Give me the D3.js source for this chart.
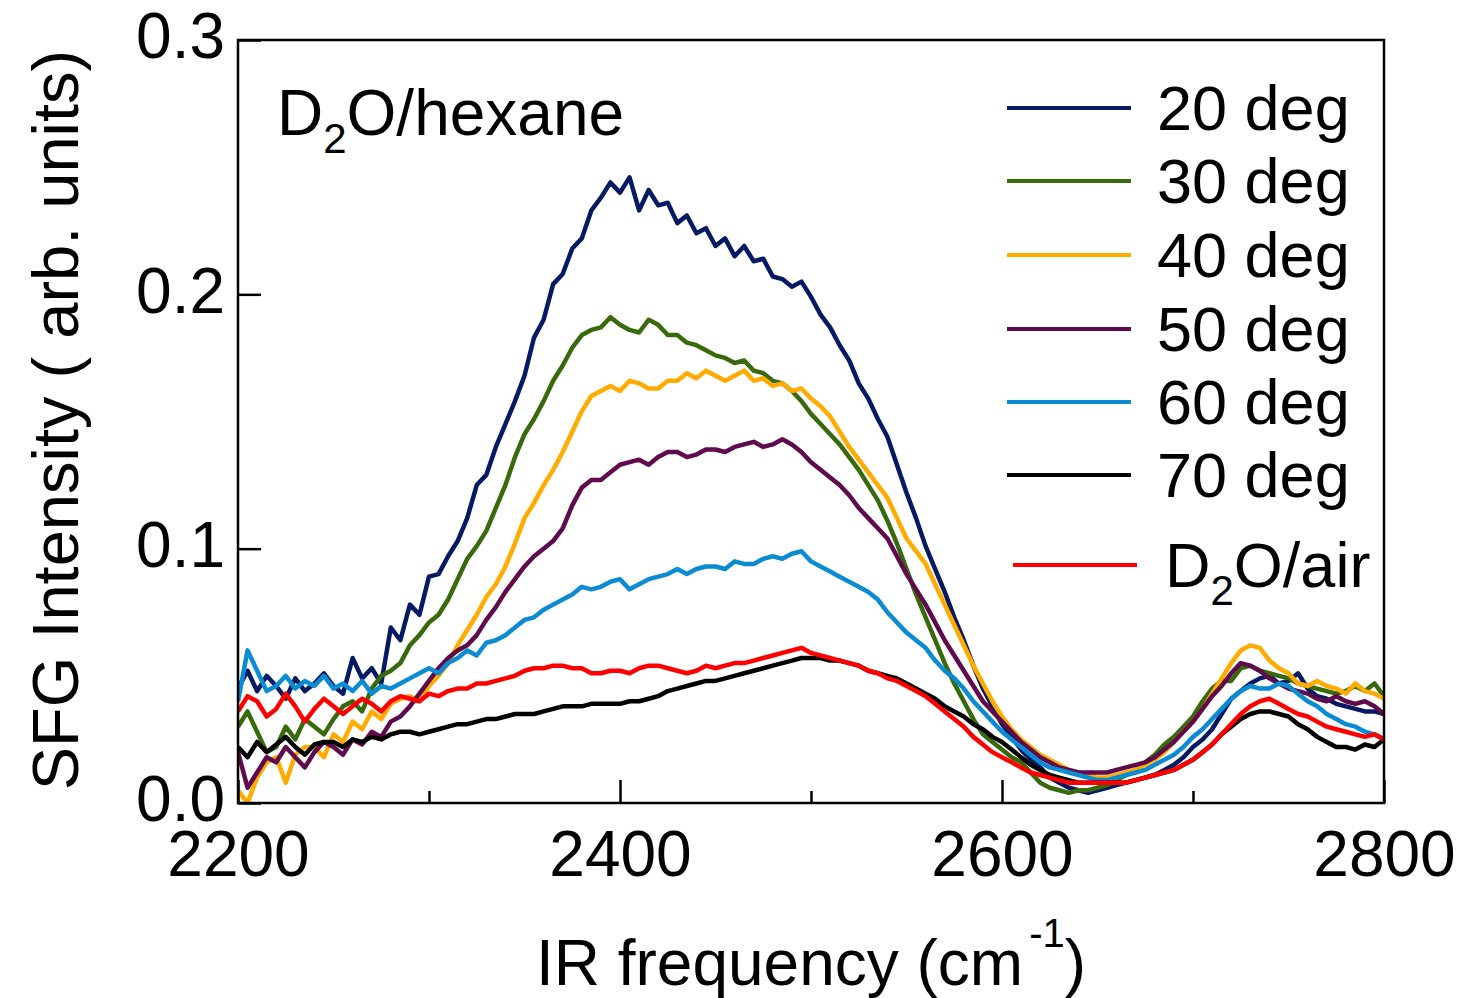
<!DOCTYPE html>
<html>
<head>
<meta charset="utf-8">
<script src="https://cdn.jsdelivr.net/npm/d3@7"></script>
<style>
body { margin: 0; background: #fff; }
text { font-family: "Liberation Sans", Arial, sans-serif; fill: #000; }
</style>
</head>
<body>
<div id="chart"></div>
<script>
// IR frequency grid (cm-1), 5 cm-1 step
var freq = d3.range(2200, 2801, 5);

// SFG intensity, in 1e-3 arb. units (one row = 50 cm-1)
var deg20 = [
  45,52,44,50,46,41,49,44,47,51,
  46,43,57,49,53,47,69,64,78,74,
  89,90,97,103,112,125,129,140,149,158,
  168,183,190,204,208,218,222,233,238,244,
  240,246,233,241,235,236,228,231,224,226,
  219,222,215,219,213,214,207,206,203,205,
  199,192,187,180,174,165,159,151,144,133,
  122,112,101,92,83,73,64,54,45,38,
  31,26,21,17,14,10,8,6,5,4,
  5,6,7,8,9,10,11,13,15,18,
  22,25,29,35,41,44,47,49,50,47,
  48,51,45,42,41,39,38,37,36,36,
  35];
var deg30 = [
  30,36,28,20,22,30,25,33,30,27,
  33,38,40,36,45,50,52,55,62,66,
  71,74,80,88,96,101,107,116,125,136,
  145,151,158,166,172,179,184,186,187,191,
  188,186,185,190,188,184,184,181,180,178,
  176,175,173,174,170,169,166,165,162,158,
  153,149,145,141,136,131,125,119,111,102,
  92,82,73,64,55,47,40,33,27,24,
  21,18,16,12,8,6,5,4,5,5,
  6,7,9,11,13,16,19,23,26,30,
  34,40,45,48,48,53,54,52,51,50,
  49,47,46,45,44,43,44,46,44,47,
  42];
var deg40 = [
  5,0,10,16,18,8,19,22,22,18,
  27,24,32,29,36,33,39,41,42,40,
  46,50,55,62,68,74,81,86,93,102,
  112,118,125,131,138,146,154,160,162,164,
  162,166,165,163,163,166,166,169,167,170,
  168,166,168,170,166,167,164,165,162,163,
  159,156,152,146,140,135,130,125,120,112,
  104,99,94,86,78,70,62,54,47,40,
  34,29,25,22,19,17,15,13,12,11,
  10,10,11,12,13,15,17,20,24,28,
  32,37,43,49,55,60,62,61,56,53,
  51,47,46,48,46,45,43,47,44,43,
  41];
var deg50 = [
  20,6,12,18,16,22,18,14,20,24,
  22,19,25,23,28,26,32,34,38,43,
  48,53,57,60,62,66,72,77,83,88,
  93,97,100,103,108,117,124,127,127,130,
  133,134,135,133,136,138,138,136,137,139,
  139,138,140,141,142,140,141,143,141,138,
  134,131,128,125,121,116,112,108,104,97,
  90,84,78,71,64,58,52,46,40,36,
  32,28,24,21,18,16,14,13,12,12,
  12,12,13,14,15,16,18,21,24,28,
  32,37,42,46,51,55,54,52,49,47,
  45,44,43,41,40,42,40,39,40,38,
  35];
var deg60 = [
  40,60,52,44,46,50,45,48,46,50,
  45,47,44,48,43,46,45,47,49,51,
  53,51,55,57,60,58,63,64,66,69,
  72,73,76,78,80,82,85,84,85,87,
  88,84,86,88,89,90,92,90,92,93,
  93,92,95,94,94,96,97,96,98,99,
  95,93,91,89,87,85,83,80,75,71,
  67,64,61,56,52,49,45,40,36,32,
  28,25,22,19,16,14,13,12,11,10,
  9,9,10,11,12,13,15,17,19,22,
  26,29,33,37,41,44,46,45,45,47,
  46,43,40,38,35,33,31,30,28,27,
  25];
var deg70 = [
  22,18,24,20,23,26,22,19,23,24,
  24,22,25,24,26,25,27,28,28,27,
  28,29,30,31,31,32,33,33,34,35,
  35,35,36,37,38,38,38,39,39,39,
  39,40,40,41,42,44,45,46,47,48,
  48,49,50,51,52,53,54,55,56,57,
  57,57,56,56,55,54,52,51,50,49,
  47,45,43,41,38,36,34,31,29,26,
  24,21,18,15,13,11,10,9,8,8,
  8,8,8,8,9,10,11,12,13,15,
  17,20,23,27,30,33,35,36,36,35,
  34,31,29,26,24,22,22,21,23,22,
  25];
var d2oAir = [
  36,42,40,34,37,43,38,32,37,41,
  38,35,38,41,39,36,40,42,41,40,
  43,42,44,45,45,47,47,48,49,50,
  52,53,53,54,54,53,53,51,51,52,
  52,51,53,54,54,53,52,51,52,54,
  53,54,55,55,56,57,58,59,60,61,
  59,58,57,56,55,54,52,51,49,48,
  46,44,42,39,36,33,30,26,23,20,
  18,16,14,12,11,10,9,8,8,8,
  8,8,8,8,9,10,11,12,13,15,
  17,20,23,27,31,35,38,40,41,39,
  37,35,34,32,30,29,28,27,26,27,
  25];

var seriesNames = ["20 deg", "30 deg", "40 deg", "50 deg", "60 deg", "70 deg", "D2O/air"];
var seriesData = [deg20, deg30, deg40, deg50, deg60, deg70, d2oAir];
var seriesColors = ["#061a64", "#386a0c", "#ffab00", "#5e0a4c", "#0a8bd2", "#000000", "#ff0000"];

var xTicks = [2200, 2400, 2600, 2800];
var xMinorTicks = [2300, 2500, 2700];
var yTicks = [0, 0.1, 0.2, 0.3];

// Layout
var width = 1465,
    height = 998;
var margin = {top: 40, right: 81, bottom: 195, left: 238};
var w = width - margin.left - margin.right,
    h = height - margin.top - margin.bottom;

var svg = d3.select("#chart").append("svg")
    .attr("width", width)
    .attr("height", height);

var g = svg.append("g")
    .attr("transform", "translate(" + margin.left + "," + margin.top + ")");

var x = d3.scaleLinear().domain([2200, 2800]).range([0, w]);
var y = d3.scaleLinear().domain([0, 0.3]).range([h, 0]);

g.append("clipPath")
    .attr("id", "plot-clip")
    .append("rect")
    .attr("width", w)
    .attr("height", h);

// Curves
var line = d3.line()
    .x(function(d, i) { return x(freq[i]); })
    .y(function(d) { return y(d / 1000); });

g.append("g")
    .attr("clip-path", "url(#plot-clip)")
    .selectAll("path")
    .data(seriesData)
    .enter().append("path")
    .attr("d", line)
    .attr("fill", "none")
    .attr("stroke", function(d, i) { return seriesColors[i]; })
    .attr("stroke-width", 4.5)
    .attr("stroke-linejoin", "round");

// Axes (ticks point inward)
var xAxis = g.append("g")
    .attr("transform", "translate(0," + h + ")")
    .call(d3.axisBottom(x).tickValues(xTicks).tickSize(-23).tickPadding(28).tickFormat(d3.format("d")));
var xMinor = g.append("g")
    .attr("transform", "translate(0," + h + ")")
    .call(d3.axisBottom(x).tickValues(xMinorTicks).tickSize(-12).tickFormat(""));
var yAxis = g.append("g")
    .call(d3.axisLeft(y).tickValues(yTicks).tickSize(-23).tickPadding(13).tickFormat(d3.format(".1f")));

[xAxis, xMinor, yAxis].forEach(function(a) {
    a.select(".domain").remove();
    a.selectAll("line").attr("stroke", "#000").attr("stroke-width", 2.5);
    a.selectAll("text")
        .style("font-family", "'Liberation Sans', Arial, sans-serif")
        .style("font-size", "64px")
        .attr("fill", "#000");
});
yAxis.selectAll("text").attr("dy", "0.28em");

// Frame
g.append("rect")
    .attr("width", w)
    .attr("height", h)
    .attr("fill", "none")
    .attr("stroke", "#000")
    .attr("stroke-width", 2.5);

// Axis titles
var xt = svg.append("text")
    .attr("x", margin.left + w / 2)
    .attr("y", 985)
    .attr("text-anchor", "middle")
    .style("font-size", "64px");
xt.append("tspan").text("IR frequency (cm");
xt.append("tspan").attr("dy", -38).attr("dx", 6).style("font-size", "40px").text("-1");
xt.append("tspan").attr("dy", 38).text(")");

svg.append("text")
    .attr("transform", "translate(78," + (margin.top + 380) + ") rotate(-90)")
    .attr("text-anchor", "middle")
    .style("font-size", "65px")
    .text("SFG Intensity ( arb. units)");

// Sample label
var lab = g.append("text")
    .attr("x", 39)
    .attr("y", 95)
    .style("font-size", "64px");
lab.append("tspan").text("D");
lab.append("tspan").attr("dy", 18).style("font-size", "42px").text("2");
lab.append("tspan").attr("dy", -18).text("O/hexane");

// Legend
var legendY = [68, 141, 215, 289, 362, 435, 525];
var legend = g.append("g");
seriesNames.forEach(function(name, i) {
    var last = i === seriesNames.length - 1;
    var x0 = last ? 775 : 769;
    legend.append("line")
        .attr("x1", x0).attr("x2", x0 + 124)
        .attr("y1", legendY[i]).attr("y2", legendY[i])
        .attr("stroke", seriesColors[i])
        .attr("stroke-width", 4);
    var t = legend.append("text")
        .attr("x", last ? 927 : 919)
        .attr("y", legendY[i] + 22)
        .style("font-size", "63px");
    if (last) {
        t.append("tspan").text("D");
        t.append("tspan").attr("dy", 18).style("font-size", "42px").text("2");
        t.append("tspan").attr("dy", -18).text("O/air");
    } else {
        t.text(name);
    }
});
</script>
</body>
</html>
